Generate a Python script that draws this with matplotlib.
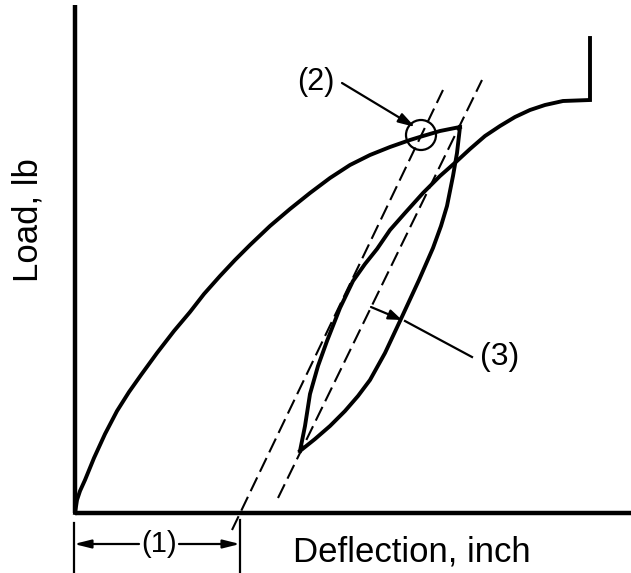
import matplotlib
matplotlib.use("Agg")
import matplotlib.pyplot as plt
from matplotlib.patches import Circle

plt.rcParams['font.family'] = ['Liberation Sans', 'DejaVu Sans']
plt.rcParams['lines.scale_dashes'] = False

# ---- data (deflection, load in arbitrary drawing units) ----
load_defl = [0, 2, 5, 10, 19, 30, 42, 54, 66, 82, 99, 115, 129, 145, 160, 175, 195,
             215, 235, 255, 275, 295, 315, 335, 348, 365, 385]
load_load = [0, 13, 22, 33, 55, 79, 102, 121, 138, 160, 182, 201, 219, 237, 253, 268, 287,
             304, 320, 335, 348, 358, 366, 373, 377, 382, 386]

unload_defl = [385, 382, 378, 372, 366, 358, 344, 325, 310, 295, 283, 270, 255, 240, 225]
unload_load = [386, 360, 337, 307, 287, 265, 233, 192, 160, 133, 117, 102, 87, 74, 62]

reload_defl = [225, 230, 235, 243, 252, 265, 278, 290, 302, 315, 330, 348, 365, 382,
               395, 410, 425, 440, 455, 470, 488, 515, 515]
reload_load = [62, 87, 119, 147, 172, 205, 232, 249, 264, 283, 300, 320, 337, 352,
               364, 377, 387, 396, 403, 408, 412, 413, 475]

offset_line_defl = [157, 368]
offset_line_load = [-17, 423]
chord_line_defl = [203, 407]
chord_line_load = [15, 433]

point2 = (346, 378)
offset_value = 165  # deflection where offset line meets axis

fig = plt.figure(figsize=(6.31, 5.73), dpi=100)
ax = fig.add_axes([0, 0, 1, 1])
ax.set_xlim(-75, 556)
ax.set_ylim(-60, 513)
ax.axis('off')

K = 'black'
# axes
ax.plot([0, 0], [508, 0], color=K, lw=3.2, solid_capstyle='butt')
ax.plot([0, 556], [0, 0], color=K, lw=3.2, solid_capstyle='butt')

# curves
ax.plot(load_defl, load_load, color=K, lw=2.8, solid_joinstyle='round')
ax.plot(unload_defl, unload_load, color=K, lw=2.8, solid_joinstyle='round')
ax.plot(reload_defl, reload_load, color=K, lw=2.8, solid_joinstyle='miter')

# dashed lines
ax.plot(offset_line_defl, offset_line_load, color=K, lw=1.5, dashes=(11, 4.5))
ax.plot(chord_line_defl, chord_line_load, color=K, lw=1.5, dashes=(11, 4.5))

# circle at (2)
ax.add_patch(Circle(point2, 15, fill=False, ec=K, lw=1.6))

# label (2)
ax.text(241, 431, '(2)', fontsize=22, ha='center', va='center')
ax.annotate('', xy=(340, 386), xytext=(267, 430),
            arrowprops=dict(arrowstyle='-|>,head_length=1.0,head_width=0.3',
                            color=K, lw=1.6, shrinkA=0, shrinkB=0))

# label (3)
ax.text(425, 156, '(3)', fontsize=23, ha='center', va='center')
ax.plot([397, 330], [156, 192], color=K, lw=1.6)
ax.annotate('', xy=(327, 193), xytext=(296, 206),
            arrowprops=dict(arrowstyle='-|>,head_length=0.8,head_width=0.3',
                            color=K, lw=1.6, shrinkA=0, shrinkB=0))

# dimension (1)
ax.plot([-1, -1], [-10, -59], color=K, lw=1.6)
ax.plot([offset_value, offset_value], [-7, -60], color=K, lw=1.6)
ax.text(84, -31, '(1)', fontsize=21, ha='center', va='center')
for x0, x1 in [(64, -1), (104, offset_value)]:
    ax.annotate('', xy=(x1, -31), xytext=(x0, -31),
                arrowprops=dict(arrowstyle='-|>,head_length=1.0,head_width=0.25',
                                color=K, lw=1.6, shrinkA=0, shrinkB=0))

# axis titles
ax.text(337, -39, 'Deflection, inch', fontsize=25, ha='center', va='center')
ax.text(-47, 293, 'Load, lb', fontsize=25, ha='center', va='center', rotation=90)

fig.savefig('out.png', dpi=100)
